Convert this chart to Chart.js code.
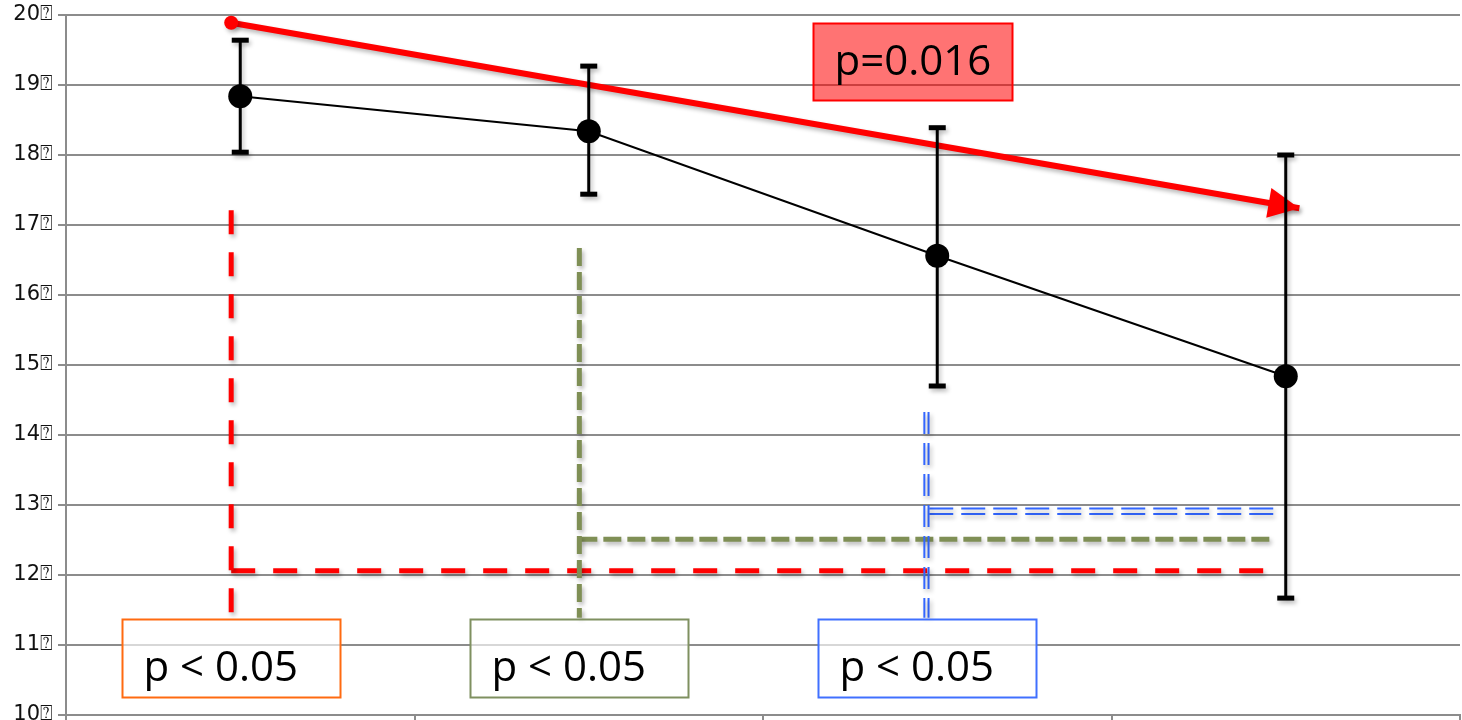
<!DOCTYPE html>
<html>
<head>
<meta charset="utf-8">
<script src="https://cdn.jsdelivr.net/npm/chart.js@4.4.1/dist/chart.umd.min.js"></script>
<style>
  html, body { margin: 0; padding: 0; background: #fff; }
</style>
</head>
<body>
<canvas id="chart" width="1462" height="720"></canvas>
<script>
// group means with error bar ends, one value per time point
const means = [18.84, 18.34, 16.56, 14.84];
const errHigh = [19.64, 19.27, 18.39, 18.0];
const errLow = [18.04, 17.44, 14.70, 11.67];

// overall trend arrow (start, tip)
const trendX = [-0.026, 3.039];
const trendY = [19.89, 17.24];

// comparison brackets
const redX = -0.026, redTop = 17.21, redLevel = 12.06;
const greenX = 0.973, greenTop = 16.67, greenLevel = 12.51;
const blueX = [1.963, 1.975], blueTop = 14.33, blueLevel = [12.95, 12.87];
const bracketBottom = 11.39, bracketEnd = 2.97;

// y axis
const yTicks = [10, 11, 12, 13, 14, 15, 16, 17, 18, 19, 20];
const xBounds = [-0.5, 0.5, 1.5, 2.5, 3.5];

// text boxes
const boxes = [
  { text: 'p < 0.05', x: redX, y: 10.81, w: 218, h: 78, stroke: '#ff6a10', fill: 'rgba(255,255,255,0.65)' },
  { text: 'p < 0.05', x: greenX, y: 10.81, w: 218, h: 78, stroke: '#7f9060', fill: 'rgba(255,255,255,0.65)' },
  { text: 'p < 0.05', x: 1.971, y: 10.81, w: 218, h: 78, stroke: '#4070ff', fill: 'rgba(255,255,255,0.65)' },
  { text: 'p=0.016', x: 1.93, y: 19.336, w: 199, h: 77, stroke: '#ff0000', fill: 'rgba(255,0,0,0.55)', center: true }
];

const pts = (xs, ys) => xs.map((x, i) => ({ x, y: ys[i] }));

// soft drop shadow like the original slide
const shadowPlugin = {
  id: 'shadow',
  beforeDatasetDraw(chart, args) {
    const ds = chart.data.datasets[args.index];
    if (!ds.shadow) return;
    const ctx = chart.ctx;
    ctx.save();
    ctx.shadowColor = 'rgba(0,0,0,0.28)';
    ctx.shadowBlur = 4;
    ctx.shadowOffsetX = 2;
    ctx.shadowOffsetY = 3;
  },
  afterDatasetDraw(chart, args) {
    if (chart.data.datasets[args.index].shadow) chart.ctx.restore();
  }
};

const extrasPlugin = {
  id: 'extras',
  afterDatasetsDraw(chart) {
    const { ctx, scales: { x, y } } = chart;

    // arrow head on the trend line
    const tip = { x: x.getPixelForValue(trendX[1]), y: y.getPixelForValue(trendY[1]) };
    const tail = { x: x.getPixelForValue(trendX[0]), y: y.getPixelForValue(trendY[0]) };
    const a = Math.atan2(tip.y - tail.y, tip.x - tail.x);
    ctx.save();
    ctx.shadowColor = 'rgba(0,0,0,0.25)';
    ctx.shadowBlur = 4;
    ctx.shadowOffsetX = 2;
    ctx.shadowOffsetY = 3;
    ctx.fillStyle = '#ff0000';
    ctx.beginPath();
    ctx.moveTo(tip.x, tip.y);
    ctx.lineTo(tip.x - 31 * Math.cos(a) + 15 * Math.sin(a), tip.y - 31 * Math.sin(a) - 15 * Math.cos(a));
    ctx.lineTo(tip.x - 31 * Math.cos(a) - 15 * Math.sin(a), tip.y - 31 * Math.sin(a) + 15 * Math.cos(a));
    ctx.closePath();
    ctx.fill();

    // error bars
    ctx.strokeStyle = '#000';
    ctx.fillStyle = '#000';
    ctx.lineWidth = 3;
    means.forEach((m, i) => {
      const px = x.getPixelForValue(i);
      const top = y.getPixelForValue(errHigh[i]);
      const bot = y.getPixelForValue(errLow[i]);
      ctx.beginPath();
      ctx.moveTo(px, top);
      ctx.lineTo(px, bot);
      ctx.stroke();
      ctx.fillRect(px - 8.5, top - 2.5, 17, 5);
      ctx.fillRect(px - 8.5, bot - 2.5, 17, 5);
    });
    ctx.restore();

    // means on top of the bars
    ctx.save();
    ctx.fillStyle = '#000';
    means.forEach((m, i) => {
      ctx.beginPath();
      ctx.arc(x.getPixelForValue(i), y.getPixelForValue(m), 12, 0, Math.PI * 2);
      ctx.fill();
    });
    ctx.restore();
  },
  afterDraw(chart) {
    const { ctx, scales: { x, y } } = chart;
    ctx.save();
    boxes.forEach(b => {
      const cx = x.getPixelForValue(b.x);
      const cy = y.getPixelForValue(b.y);
      const left = Math.round(cx - b.w / 2) + 0.5;
      const top = Math.round(cy - b.h / 2) + 0.5;
      ctx.fillStyle = b.fill;
      ctx.fillRect(left, top, b.w, b.h);
      ctx.strokeStyle = b.stroke;
      ctx.lineWidth = 2;
      ctx.strokeRect(left, top, b.w, b.h);
      ctx.fillStyle = '#000';
      ctx.font = '42px "Open Sans"';
      ctx.textBaseline = 'alphabetic';
      if (b.center) {
        ctx.textAlign = 'center';
        ctx.fillText(b.text, cx, top + 51);
      } else {
        ctx.textAlign = 'left';
        ctx.fillText(b.text, left + 21, top + 61);
      }
    });
    ctx.restore();
  }
};

const dashed = (data, color, width, dash, order) => ({
  type: 'line', data, borderColor: color, borderWidth: width, borderDash: dash,
  borderCapStyle: 'butt', pointRadius: 0, fill: false, tension: 0, order, shadow: true
});

new Chart(document.getElementById('chart'), {
  type: 'line',
  data: {
    datasets: [
      // mean line
      {
        data: pts([0, 1, 2, 3], means), borderColor: '#000', borderWidth: 2,
        pointRadius: 0, fill: false, tension: 0, order: 0
      },
      // trend
      {
        data: pts(trendX, trendY), borderColor: '#ff0000', borderWidth: 6,
        pointRadius: [7, 0], pointBackgroundColor: '#ff0000', pointBorderWidth: 0,
        fill: false, tension: 0, order: 1, shadow: true
      },
      dashed(pts([blueX[0], blueX[0]], [blueTop, bracketBottom]), '#3366ff', 2, [22, 9], 2),
      dashed(pts([blueX[1], blueX[1]], [blueTop, bracketBottom]), '#3366ff', 2, [22, 9], 2),
      dashed(pts([1.977, bracketEnd], [blueLevel[0], blueLevel[0]]), '#3366ff', 2, [24, 8], 2),
      dashed(pts([1.977, bracketEnd], [blueLevel[1], blueLevel[1]]), '#3366ff', 2, [24, 8], 2),
      dashed(pts([greenX, greenX], [greenTop, bracketBottom]), '#7f8f55', 5, [18, 6], 3),
      dashed(pts([greenX, bracketEnd], [greenLevel, greenLevel]), '#7f8f55', 5, [18, 6], 3),
      dashed(pts([redX, redX], [redTop, bracketBottom]), '#ff0000', 5, [24, 18], 4),
      dashed(pts([redX, bracketEnd], [redLevel, redLevel]), '#ff0000', 5, [24, 18], 4)
    ]
  },
  options: {
    responsive: false,
    animation: false,
    layout: { autoPadding: false, padding: { top: 15, right: 2, bottom: 0, left: 0 } },
    plugins: { legend: { display: false }, tooltip: { enabled: false } },
    scales: {
      x: {
        type: 'linear',
        min: -0.5,
        max: 3.5,
        afterBuildTicks: s => { s.ticks = xBounds.map(v => ({ value: v })); },
        afterFit: s => { s.height = 5; s.paddingLeft = 0; s.paddingRight = 0; },
        ticks: { display: false },
        grid: { drawOnChartArea: false, drawTicks: true, tickLength: 8, color: '#8c8c8c', lineWidth: 2 },
        border: { color: '#8c8c8c', width: 2 }
      },
      y: {
        min: 10,
        max: 20,
        afterBuildTicks: s => { s.ticks = yTicks.map(v => ({ value: v })); },
        afterFit: s => { s.width = 66; s.paddingTop = 0; s.paddingBottom = 0; },
        ticks: {
          padding: 5,
          color: '#111',
          font: { family: '"DejaVu Sans"', size: 21 },
          callback: v => v + '\u2370'
        },
        grid: { color: '#8c8c8c', lineWidth: 2, tickLength: 8 },
        border: { color: '#8c8c8c', width: 2 }
      }
    }
  },
  plugins: [shadowPlugin, extrasPlugin]
});
</script>
</body>
</html>
